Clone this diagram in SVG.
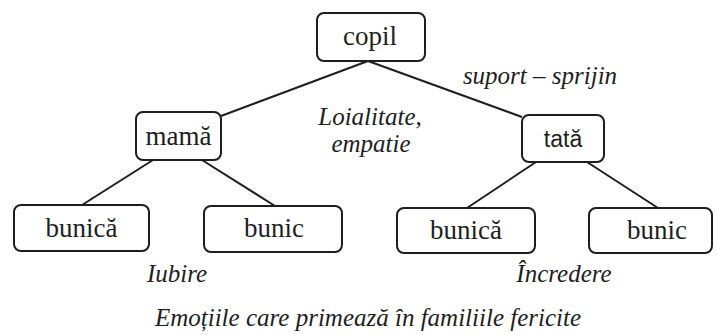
<svg xmlns="http://www.w3.org/2000/svg" width="717" height="335" viewBox="0 0 717 335">
  <style>
    .box { fill: #ffffff; stroke: #1e1e1e; stroke-width: 2; }
    .lbl { font-family: "Liberation Serif", "Times New Roman", serif; font-size: 27px; fill: #1e1e1e; text-anchor: middle; }
    .sans { font-family: "Liberation Sans", Arial, sans-serif; font-size: 23px; fill: #1e1e1e; text-anchor: middle; }
    .it { font-family: "Liberation Serif", "Times New Roman", serif; font-style: italic; font-size: 25px; fill: #1e1e1e; text-anchor: middle; }
    .edge { stroke: #1e1e1e; stroke-width: 2; fill: none; }
  </style>
  <rect width="717" height="335" fill="#ffffff"/>
  <g id="connectors">
    <line class="edge" x1="368" y1="61" x2="221" y2="116"/>
    <line class="edge" x1="368" y1="61" x2="522" y2="117"/>
    <line class="edge" x1="153" y1="160" x2="82" y2="205"/>
    <line class="edge" x1="202" y1="160" x2="275" y2="206"/>
    <line class="edge" x1="536" y1="162" x2="467" y2="208"/>
    <line class="edge" x1="587" y1="162" x2="658" y2="208"/>
  </g>
  <g id="copil">
    <rect class="box" x="317" y="13" width="108" height="48" rx="7"/>
    <text class="lbl" x="370" y="45">copil</text>
  </g>
  <g id="mama">
    <rect class="box" x="136" y="112" width="85" height="48" rx="7"/>
    <text class="lbl" x="178.5" y="145">mamă</text>
  </g>
  <g id="tata">
    <rect class="box" x="522" y="115" width="82" height="47" rx="7"/>
    <text class="sans" x="563" y="147">tată</text>
  </g>
  <g id="bunica1">
    <rect class="box" x="14" y="205" width="135" height="46" rx="7"/>
    <text class="lbl" x="81.5" y="237">bunică</text>
  </g>
  <g id="bunic1">
    <rect class="box" x="204" y="206" width="138" height="46" rx="7"/>
    <text class="lbl" x="274" y="237">bunic</text>
  </g>
  <g id="bunica2">
    <rect class="box" x="397" y="208" width="138" height="45" rx="7"/>
    <text class="lbl" x="466" y="239">bunică</text>
  </g>
  <g id="bunic2">
    <rect class="box" x="589" y="208" width="123" height="45" rx="7"/>
    <text class="lbl" x="657" y="239">bunic</text>
  </g>
  <g id="labels">
    <text class="it" x="540" y="84">suport – sprijin</text>
    <text class="it" x="370" y="125">Loialitate,</text>
    <text class="it" x="371" y="152">empatie</text>
    <text class="it" x="177" y="282">Iubire</text>
    <text class="it" x="564" y="282">Încredere</text>
    <text class="it" x="368" y="326">Emoțiile care primează în familiile fericite</text>
  </g>
</svg>
